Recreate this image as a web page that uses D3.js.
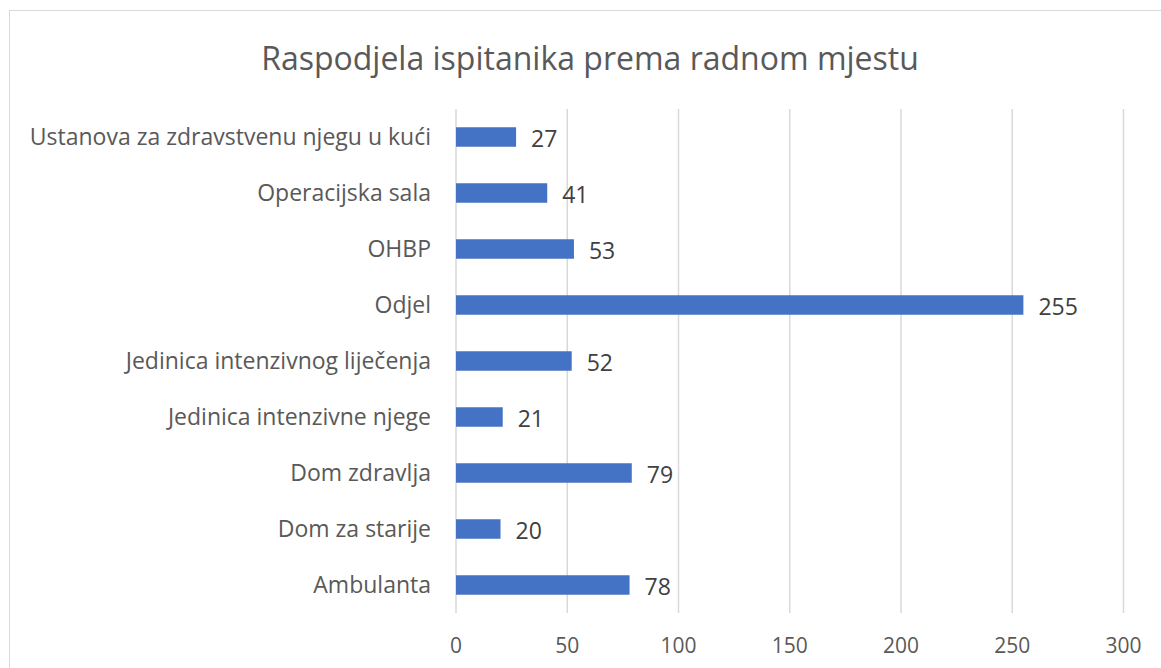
<!DOCTYPE html>
<html>
<head>
<meta charset="utf-8">
<script src="https://cdn.jsdelivr.net/npm/d3@7"></script>
<style>
  body { margin: 0; background: #fff; }
  text { font-family: "Open Sans", sans-serif; }
</style>
</head>
<body>
<div id="chart"></div>
<script>
// Data (top to bottom)
const categories = [
    "Ustanova za zdravstvenu njegu u kući",
    "Operacijska sala",
    "OHBP",
    "Odjel",
    "Jedinica intenzivnog liječenja",
    "Jedinica intenzivne njege",
    "Dom zdravlja",
    "Dom za starije",
    "Ambulanta"
];
const values = [27, 41, 53, 255, 52, 21, 79, 20, 78];
const xTicks = [0, 50, 100, 150, 200, 250, 300];
const title = "Raspodjela ispitanika prema radnom mjestu";

const W = 1161, H = 668;
const margin = { top: 109, right: 37.5, bottom: 55, left: 456 };

const svg = d3.select("#chart")
    .append("svg")
    .attr("width", W)
    .attr("height", H);

// chart frame (cut off at right and bottom like the reference)
svg.append("rect")
    .attr("x", 9.5).attr("y", 10.5)
    .attr("width", W + 20).attr("height", H + 20)
    .attr("fill", "none")
    .attr("stroke", "#d9d9d9");

const x = d3.scaleLinear()
    .domain([0, 300])
    .range([margin.left, W - margin.right]);

const y = d3.scaleBand()
    .domain(categories)
    .range([margin.top, H - margin.bottom])
    .paddingInner(0.652)
    .paddingOuter(0.326);

// title
svg.append("text")
    .attr("x", 590)
    .attr("y", 70)
    .attr("text-anchor", "middle")
    .attr("font-size", "32px")
    .attr("fill", "#595959")
    .text(title);

// gridlines
svg.append("g")
    .selectAll("line")
    .data(xTicks)
    .join("line")
    .attr("x1", d => x(d)).attr("x2", d => x(d))
    .attr("y1", margin.top).attr("y2", H - margin.bottom)
    .attr("stroke", "#d9d9d9")
    .attr("stroke-width", 1.5);

// x tick labels
svg.append("g")
    .selectAll("text")
    .data(xTicks)
    .join("text")
    .attr("x", d => x(d))
    .attr("y", 653)
    .attr("text-anchor", "middle")
    .attr("font-size", "21px")
    .attr("fill", "#595959")
    .text(d => d);

// category labels
svg.append("g")
    .selectAll("text")
    .data(categories)
    .join("text")
    .attr("x", margin.left - 25)
    .attr("y", d => y(d) + y.bandwidth() / 2)
    .attr("dy", "0.35em")
    .attr("text-anchor", "end")
    .attr("font-size", "23px")
    .attr("fill", "#595959")
    .text(d => d);

// bars
svg.append("g")
    .selectAll("rect")
    .data(values)
    .join("rect")
    .attr("x", x(0))
    .attr("y", (d, i) => y(categories[i]))
    .attr("width", d => x(d) - x(0))
    .attr("height", y.bandwidth())
    .attr("fill", "#4472c4");

// value labels
svg.append("g")
    .selectAll("text")
    .data(values)
    .join("text")
    .attr("x", d => x(d) + 15)
    .attr("y", (d, i) => y(categories[i]) + y.bandwidth() / 2)
    .attr("dy", "0.45em")
    .attr("font-size", "23px")
    .attr("fill", "#404040")
    .text(d => d);
</script>
</body>
</html>
